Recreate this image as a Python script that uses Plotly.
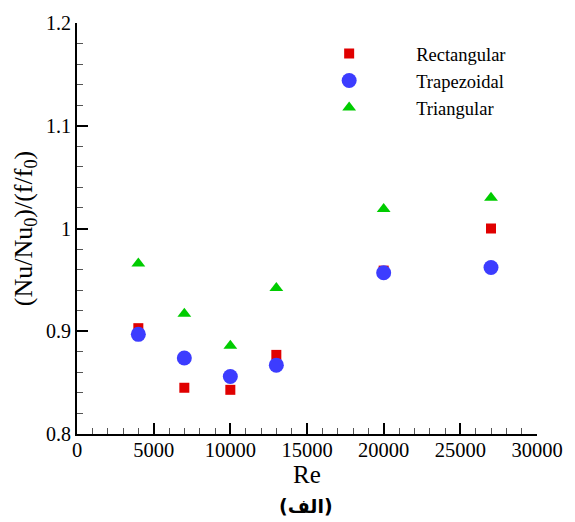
import plotly.graph_objects as go

re_vals = [4000, 7000, 10000, 13000, 20000, 27000]
rect_vals = [0.903, 0.845, 0.843, 0.877, 0.959, 1.000]
trap_vals = [0.897, 0.874, 0.856, 0.867, 0.957, 0.962]
tri_vals = [0.966, 0.917, 0.886, 0.942, 1.019, 1.030]

series = [
    ("Rectangular", rect_vals, "square", 10, "#e00000"),
    ("Trapezoidal", trap_vals, "circle", 15, "#3c3cff"),
    ("Triangular", tri_vals, "triangle-up", 12, "#00cc00"),
]

font_family = "Liberation Serif"

fig = go.Figure()
for name, vals, sym, size, col in series:
    fig.add_trace(go.Scatter(
        x=re_vals, y=vals, mode="markers", name=name,
        marker=dict(symbol=sym, size=size, color=col, line=dict(width=0)),
    ))

fig.update_layout(
    width=575, height=522,
    margin=dict(l=77, r=38, t=15, b=88),
    paper_bgcolor="white", plot_bgcolor="white",
    font=dict(family=font_family, size=20, color="black"),
    showlegend=True,
    legend=dict(
        x=0.446, y=0.971, xanchor="left", yanchor="top",
        bgcolor="rgba(0,0,0,0)", font=dict(family=font_family, size=18.5),
        itemwidth=124, tracegroupgap=0,
    ),
    xaxis=dict(
        range=[0, 30000], dtick=5000, tick0=0, tickformat="d",
        showline=True, linecolor="black", linewidth=2,
        showgrid=False, zeroline=False,
        ticks="inside", ticklen=11, tickwidth=2, tickcolor="black",
        minor=dict(ticks="inside", ticklen=6, dtick=1000, tickcolor="#555", tickwidth=1, showgrid=False),
        tickfont=dict(family=font_family, size=20.5),
        ticklabelstandoff=-4,
        title=dict(text="Re", font=dict(family=font_family, size=25), standoff=2),
    ),
    yaxis=dict(
        range=[0.8, 1.2], dtick=0.1, tick0=0.8,
        showline=True, linecolor="black", linewidth=2,
        showgrid=False, zeroline=False,
        ticks="inside", ticklen=11, tickwidth=2, tickcolor="black",
        minor=dict(ticks="inside", ticklen=6, dtick=0.02, tickcolor="#555", tickwidth=1, showgrid=False),
        tickfont=dict(family=font_family, size=20),
        tickformat=".1~f",
        title=dict(text="(Nu/Nu<sub>0</sub>)/(f/f<sub>0</sub>)", font=dict(family=font_family, size=26), standoff=6),
    ),
)

fig.add_annotation(
    text="<b>(الف)</b>", xref="paper", yref="paper", x=0.497, y=-0.174,
    xanchor="center", yanchor="middle", showarrow=False,
    font=dict(family="DejaVu Sans", size=19, color="black"),
)

fig.write_html("out.html")
